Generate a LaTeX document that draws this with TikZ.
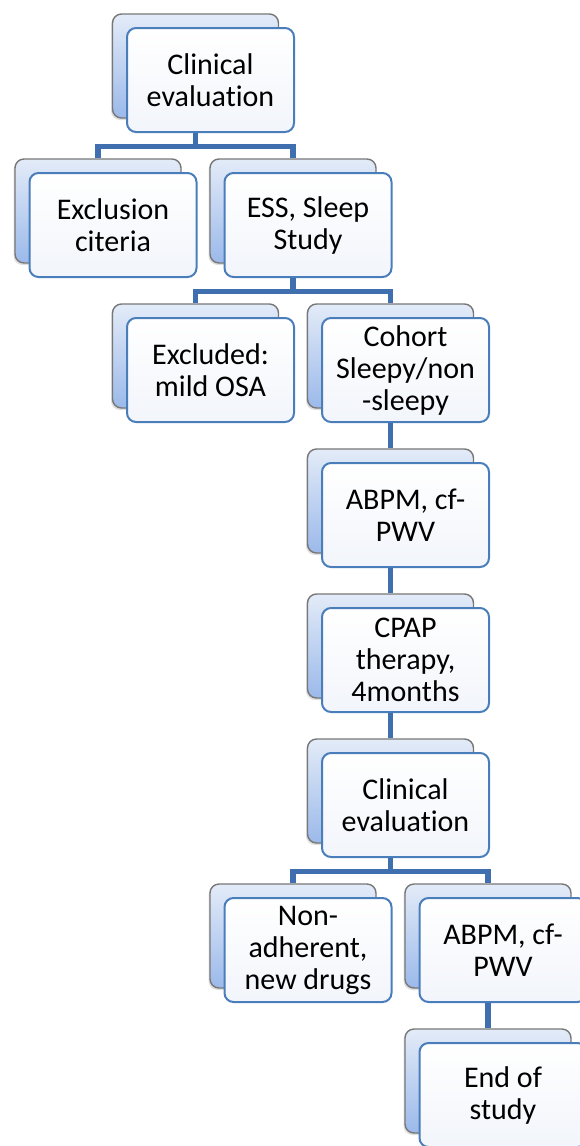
\documentclass[tikz,border=0pt]{standalone}
\usepackage{fontspec}
\setmainfont{Carlito}[Ligatures={NoCommon}]
\usetikzlibrary{shadows,calc}
\definecolor{conncol}{HTML}{3F6FAE}
\definecolor{frontline}{HTML}{4A7EBB}
\definecolor{backline}{HTML}{777777}
\definecolor{backtop}{HTML}{E3EBF8}
\definecolor{backbot}{HTML}{9BB9EA}
\definecolor{frontbot}{HTML}{F2F5FB}
\pgfdeclarelayer{bg}
\pgfsetlayers{bg,main}
\tikzset{
 backbox/.style={draw=backline, line width=1.4pt, rounded corners=9pt, minimum width=166pt, minimum height=104pt, inner sep=0pt, top color=backtop, bottom color=backbot, drop shadow={shadow xshift=-1.5pt, shadow yshift=-2pt, opacity=0.25}},
 frontbox/.style={draw=frontline, line width=2pt, rounded corners=9pt, minimum width=167pt, minimum height=104pt, inner sep=2pt, top color=white, bottom color=frontbot, align=center, font=\fontsize{30}{32}\selectfont, text=black},
 conn/.style={draw=conncol, line width=5.5pt}
}
\newcommand\smitem[4]{%
 \node[backbox] (#1b) at ({15+97.5*#2+83},{14+145*#3+52}) {};
 \node[frontbox] (#1) at ({15+97.5*#2+98},{14+145*#3+66}) {#4};}
\begin{document}
\begin{tikzpicture}[x=1pt,y=-1pt]
\useasboundingbox (0,0) rectangle (580,1146);
\clip (0,0) rectangle (580,1146);
\smitem{a1}{1}{0}{Clinical\\evaluation}
\smitem{a2}{0}{1}{Exclusion\\citeria}
\smitem{a3}{2}{1}{ESS, Sleep\\Study}
\smitem{a4}{1}{2}{Excluded:\\mild OSA}
\smitem{a5}{3}{2}{Cohort\\Sleepy/non\\-sleepy}
\smitem{a6}{3}{3}{ABPM, cf-\\PWV}
\smitem{a7}{3}{4}{CPAP\\therapy,\\4months}
\smitem{a8}{3}{5}{Clinical\\evaluation}
\smitem{a9}{2}{6}{Non-\\adherent,\\new drugs}
\smitem{a10}{4}{6}{ABPM, cf-\\PWV}
\smitem{a11}{4}{7}{End of\\study}
\begin{pgfonlayer}{bg}
\coordinate (j1) at ($(a1b.south |- a2b.north)+(0,-12)$);
\coordinate (j2) at ($(a3b.south |- a4b.north)+(0,-12)$);
\coordinate (j3) at ($(a8b.south |- a9b.north)+(0,-12)$);
\draw[conn] (a1b.south) -- (j1);
\draw[conn] (a2b.north) |- (j1) -| (a3b.north);
\draw[conn] (a3b.south) -- (j2);
\draw[conn] (a4b.north) |- (j2) -| (a5b.north);
\draw[conn] (a5b.south) -- (a6b.north);
\draw[conn] (a6b.south) -- (a7b.north);
\draw[conn] (a7b.south) -- (a8b.north);
\draw[conn] (a8b.south) -- (j3);
\draw[conn] (a9b.north) |- (j3) -| (a10b.north);
\draw[conn] (a10b.south) -- (a11b.north);
\end{pgfonlayer}
\end{tikzpicture}
\end{document}
